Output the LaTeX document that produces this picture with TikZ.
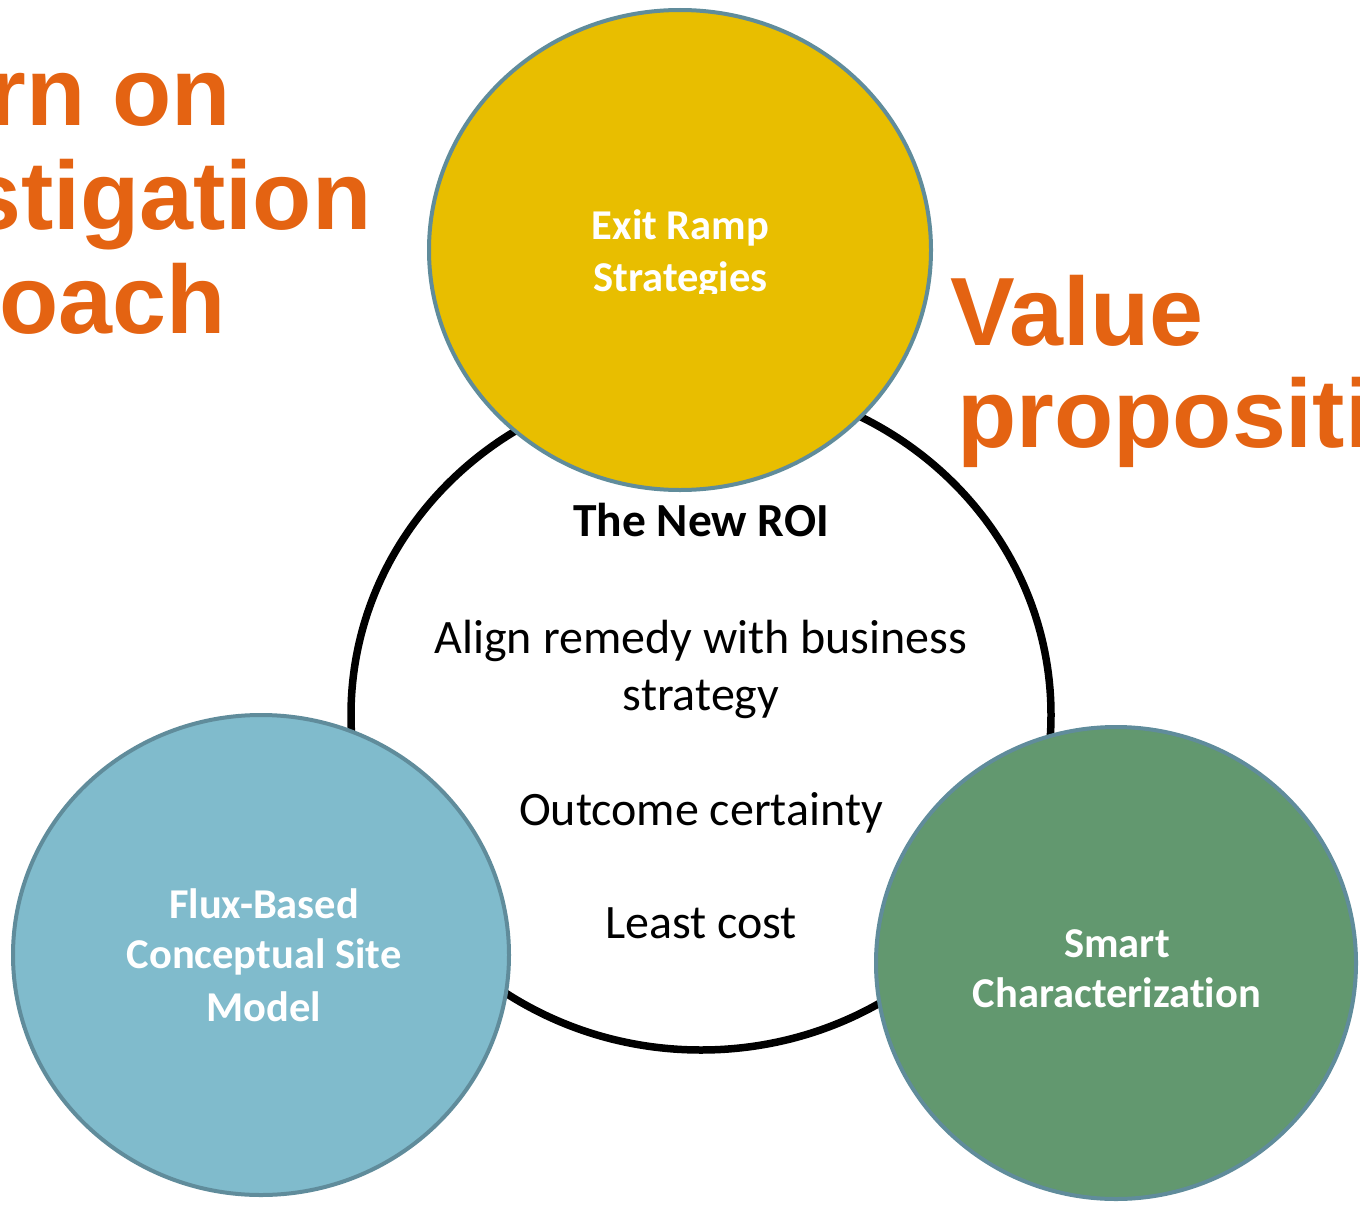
\documentclass[tikz,border=0pt]{standalone}
\usepackage{fontspec}
\setmainfont[Ligatures=NoCommon]{Carlito}
\newfontfamily\orangefont{Liberation Sans}
\usetikzlibrary{shapes.geometric}
\definecolor{orangetxt}{RGB}{228,99,18}
\definecolor{yellowfill}{RGB}{232,190,0}
\definecolor{bluefill}{RGB}{128,187,204}
\definecolor{greenfill}{RGB}{98,152,111}
\definecolor{rimcol}{RGB}{96,140,155}
\begin{document}
\begin{tikzpicture}[x=1pt,y=-1pt,
  bubble/.style={ellipse, draw=rimcol, line width=4pt, inner sep=0pt, outer sep=0pt},
  bigorange/.style={font=\orangefont\bfseries\fontsize{97}{104}\selectfont, text=orangetxt, anchor=base west, inner sep=0pt},
  whitetxt/.style={font=\bfseries\fontsize{42.5}{51}\selectfont, text=white, anchor=base, inner sep=0pt},
  roitxt/.style={font=\fontsize{48}{57}\selectfont, text=black, anchor=base, inner sep=0pt}]
\useasboundingbox (0,0) rectangle (1360,1207);
\clip (0,0) rectangle (1360,1207);
% central ring
\node (roi) [ellipse, draw=black, line width=7.5pt, minimum width=700pt, minimum height=670pt, inner sep=0pt] at (701,715) {};
% three bubbles
\node (exit) [bubble, fill=yellowfill, minimum width=502pt, minimum height=480pt] at (680,250) {};
\node (flux) [bubble, fill=bluefill, minimum width=496pt, minimum height=480pt] at (261,955) {};
\node (smart) [bubble, fill=greenfill, minimum width=480pt, minimum height=472pt] at (1116,963) {};
% bubble texts
\begin{scope}
  \clip (430,150) rectangle (930,293);
  \node (exit1) [whitetxt] at (680.5,239) {Exit Ramp};
  \node (exit2) [whitetxt] at (680.5,291) {Strategies};
\end{scope}
\node (flux1) [whitetxt] at (264,918) {Flux-Based};
\node (flux2) [whitetxt] at (264,968) {Conceptual Site};
\node (flux3) [whitetxt] at (264,1021) {Model};
\node (smart1) [whitetxt] at (1117,957) {Smart};
\node (smart2) [whitetxt] at (1117,1007) {Characterization};
% centre texts
\node (roi1) [roitxt, font=\bfseries\fontsize{47.5}{57}\selectfont] at (701,536) {The New ROI};
\node (roi2) [roitxt] at (701,653) {Align remedy with business};
\node (roi3) [roitxt] at (701,710) {strategy};
\node (roi4) [roitxt] at (701,825) {Outcome certainty};
\node (roi5) [roitxt] at (701,938) {Least cost};
% orange headings (cut by the picture edge, as in the reference)
\node (left1) [bigorange] at (-227,125) {Return on};
\node (left2) [bigorange] at (-227,229) {Investigation};
\node (left3) [bigorange] at (-227,333) {Approach};
\node (right1) [bigorange] at (950,345) {Value};
\node (right2) [bigorange] at (957,447) {proposition};
\end{tikzpicture}
\end{document}
